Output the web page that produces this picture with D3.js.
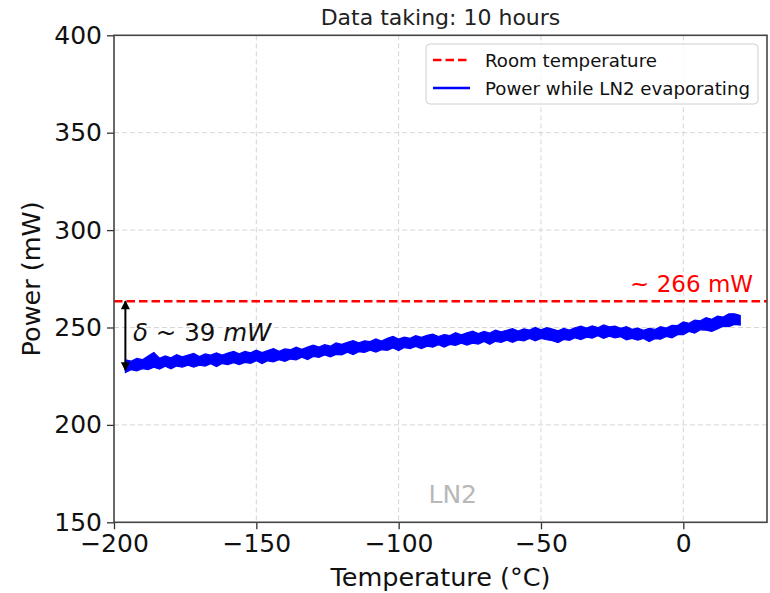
<!DOCTYPE html>
<html>
<head>
<meta charset="utf-8">
<script src="https://cdn.jsdelivr.net/npm/d3@7"></script>
<style>
  body { margin: 0; background: #fff; }
  svg text { font-family: "DejaVu Sans", sans-serif; }
</style>
</head>
<body>
<div id="my_dataviz"></div>
<script>
// ---- data (noisy band: lower / upper edge every 2 degC)
var temps = [-196,-194,-192,-190,-188,-186,-184,-182,-180,-178,-176,-174,-172,-170,-168,-166,-164,-162,-160,
  -158,-156,-154,-152,-150,-148,-146,-144,-142,-140,-138,-136,-134,-132,-130,-128,-126,-124,-122,-120,
  -118,-116,-114,-112,-110,-108,-106,-104,-102,-100,-98,-96,-94,-92,-90,-88,-86,-84,-82,-80,
  -78,-76,-74,-72,-70,-68,-66,-64,-62,-60,-58,-56,-54,-52,-50,-48,-46,-44,-42,-40,
  -38,-36,-34,-32,-30,-28,-26,-24,-22,-20,-18,-16,-14,-12,-10,-8,-6,-4,-2,0,
  2,4,6,8,10,12,14,16,18,20];
var powerHigh = [233.4,232.7,234.1,233.5,235.4,237.2,234.2,235.4,234.4,236.0,234.9,235.8,236.7,235.1,236.4,235.8,237.0,235.9,236.9,
  237.7,236.5,237.7,237.0,238.4,237.1,238.2,239.2,237.8,239.0,238.6,239.9,238.8,240.0,241.0,240.0,241.2,240.4,242.1,241.4,
  242.4,243.3,242.1,243.2,242.8,244.2,243.1,244.5,245.4,244.1,245.1,244.4,245.8,245.0,246.0,246.6,245.3,246.4,245.9,247.3,
  246.2,247.3,248.1,246.9,248.0,247.1,248.6,247.8,248.6,249.4,248.2,249.3,248.7,250.1,248.8,249.9,249.2,248.3,249.5,248.7,
  249.9,250.7,249.7,250.8,249.9,251.3,250.3,250.7,249.6,250.4,249.1,249.7,248.6,249.6,249.0,250.4,249.7,251.1,251.0,252.9,
  252.2,253.8,253.4,255.0,254.2,255.8,255.4,257.0,257.0,256.2];
var powerLow = [226.9,228.3,227.7,228.9,228.4,229.6,228.7,230.1,228.8,230.2,229.6,230.7,229.7,230.7,230.2,231.4,230.0,231.5,231.0,
  232.0,230.9,232.1,231.6,232.9,231.5,232.9,232.4,233.5,232.6,233.8,233.4,234.8,233.5,235.1,234.7,235.9,234.9,236.2,235.9,
  237.3,236.1,237.6,237.2,238.4,237.4,238.6,238.2,239.5,238.2,239.7,239.2,240.3,239.2,240.4,239.9,241.2,239.9,241.3,240.8,
  241.9,240.9,242.0,241.5,242.8,241.4,242.9,242.4,243.5,242.4,243.6,243.1,244.4,243.1,244.4,243.7,243.2,242.2,243.9,243.4,
  244.7,243.8,245.0,244.5,245.8,244.4,245.6,244.7,245.3,243.7,244.4,243.5,244.4,242.8,244.3,244.0,245.4,244.7,246.3,246.3,
  248.0,247.1,248.8,248.6,248.0,249.3,250.7,250.4,251.6,251.3];

var roomPower = 263.5;
var deltaBottom = 228;
var xTicks = [-200,-150,-100,-50,0];
var yTicks = [150,200,250,300,350,400];
var legendLabels = ["Room temperature", "Power while LN2 evaporating"];

// ---- D3 plotting initialisation
var W = 770, H = 593;
var margin = {top: 35.3, right: 3, bottom: 70.7, left: 114};
var width = W - margin.left - margin.right;
var height = H - margin.top - margin.bottom;

var svg = d3.select("#my_dataviz").append("svg")
    .attr("width", W).attr("height", H)
  .append("g")
    .attr("transform", "translate(" + margin.left + "," + margin.top + ")");

const xScale = d3.scaleLinear().domain([-200, 29.4]).range([0, width]);
const yScale = d3.scaleLinear().domain([150, 400]).range([height, 0]);

// grid
svg.append("g").selectAll("line").data(xTicks.slice(1)).join("line")
    .attr("x1", d => xScale(d)).attr("x2", d => xScale(d))
    .attr("y1", 0).attr("y2", height)
    .attr("stroke", "#d6d6d6").attr("stroke-width", 1).attr("stroke-dasharray", "5,3");
svg.append("g").selectAll("line").data(yTicks.slice(1, -1)).join("line")
    .attr("x1", 0).attr("x2", width)
    .attr("y1", d => yScale(d)).attr("y2", d => yScale(d))
    .attr("stroke", "#d6d6d6").attr("stroke-width", 1).attr("stroke-dasharray", "5,3");

// room temperature line
svg.append("line")
    .attr("x1", 0).attr("x2", width)
    .attr("y1", yScale(roomPower)).attr("y2", yScale(roomPower))
    .attr("stroke", "#ff0000").attr("stroke-width", 2.5).attr("stroke-dasharray", "8.5,4");

// power band
var dat = temps.map((t, i) => ({x: t, lo: powerLow[i], hi: powerHigh[i]}));
var area = d3.area()
    .x(d => xScale(d.x))
    .y0(d => yScale(d.lo))
    .y1(d => yScale(d.hi));
svg.append("path").datum(dat)
    .attr("d", area)
    .attr("fill", "#0000ff").attr("stroke", "#0000ff").attr("stroke-width", 1.2);

// delta arrow
var defs = svg.append("defs");
defs.append("marker").attr("id", "ah").attr("viewBox", "0 0 10 10")
    .attr("refX", 9).attr("refY", 5).attr("markerWidth", 5).attr("markerHeight", 4.5)
    .attr("orient", "auto-start-reverse").attr("markerUnits", "strokeWidth")
  .append("path").attr("d", "M0,0 L10,5 L0,10 z").attr("fill", "#000");
svg.append("line")
    .attr("x1", xScale(-196)).attr("x2", xScale(-196))
    .attr("y1", yScale(roomPower)).attr("y2", yScale(deltaBottom))
    .attr("stroke", "#000").attr("stroke-width", 2)
    .attr("marker-start", "url(#ah)").attr("marker-end", "url(#ah)");

var dt = svg.append("text")
    .attr("x", xScale(-193.3)).attr("y", yScale(247.5))
    .attr("font-size", 24.5).attr("fill", "#111").attr("dominant-baseline", "central");
dt.append("tspan").attr("font-style", "italic").text("δ");
dt.append("tspan").text(" ~ 39 ");
dt.append("tspan").attr("font-style", "italic").text("mW");

svg.append("text")
    .attr("x", xScale(24.5)).attr("y", yScale(272.5))
    .attr("text-anchor", "end").attr("dominant-baseline", "central")
    .attr("font-size", 23).attr("fill", "#ff0000")
    .text("~ 266 mW");

svg.append("text")
    .attr("x", xScale(-81)).attr("y", yScale(164.5))
    .attr("text-anchor", "middle").attr("dominant-baseline", "central")
    .attr("font-size", 25).attr("fill", "#b8b8b8")
    .text("LN2");

// axes
var xAxis = svg.append("g").attr("transform", "translate(0," + height + ")")
    .call(d3.axisBottom(xScale).tickValues(xTicks).tickSizeOuter(0)
      .tickFormat(d => d < 0 ? "\u2212" + Math.abs(d) : d));
var yAxis = svg.append("g")
    .call(d3.axisLeft(yScale).tickValues(yTicks).tickSizeOuter(0));
[xAxis, yAxis].forEach(a => {
  a.select(".domain").remove();
  a.selectAll(".tick line").attr("stroke", "#333").attr("stroke-width", 1.3);
  a.selectAll("text").attr("font-size", 25).attr("fill", "#111");
});
xAxis.selectAll(".tick line").attr("y2", 7);
xAxis.selectAll("text").attr("y", 12);
yAxis.selectAll(".tick line").attr("x2", -7);
yAxis.selectAll("text").attr("x", -12);

// frame
svg.append("rect").attr("width", width).attr("height", height)
    .attr("fill", "none").attr("stroke", "#444").attr("stroke-width", 1.6);

// labels
svg.append("text")
    .attr("x", width / 2).attr("y", -18)
    .attr("text-anchor", "middle").attr("dominant-baseline", "central")
    .attr("font-size", 22).attr("fill", "#222")
    .text("Data taking: 10 hours");
svg.append("text")
    .attr("x", width / 2).attr("y", height + 55)
    .attr("text-anchor", "middle").attr("dominant-baseline", "central")
    .attr("font-size", 25.5).attr("fill", "#111")
    .text("Temperature (°C)");
svg.append("text")
    .attr("transform", "translate(" + (31 - margin.left) + "," + (height / 2) + ") rotate(-90)")
    .attr("text-anchor", "middle").attr("dominant-baseline", "central")
    .attr("font-size", 25.5).attr("fill", "#111")
    .text("Power (mW)");

// legend
var lg = svg.append("g").attr("transform", "translate(" + (426 - margin.left) + "," + (44 - margin.top) + ")");
lg.append("rect").attr("width", 332).attr("height", 60).attr("rx", 4)
    .attr("fill", "#fff").attr("fill-opacity", 0.8).attr("stroke", "#d0d0d0");
var lcol = ["#ff0000", "#0000ff"];
var ldash = ["8.5,4", null];
legendLabels.forEach((lab, i) => {
  var cy = 16 + i * 28;
  lg.append("line").attr("x1", 7).attr("x2", 44).attr("y1", cy).attr("y2", cy)
    .attr("stroke", lcol[i]).attr("stroke-width", 2.5).attr("stroke-dasharray", ldash[i]);
  lg.append("text").attr("x", 59).attr("y", cy)
    .attr("dominant-baseline", "central").attr("font-size", 18.2).attr("fill", "#111")
    .text(lab);
});
</script>
</body>
</html>
